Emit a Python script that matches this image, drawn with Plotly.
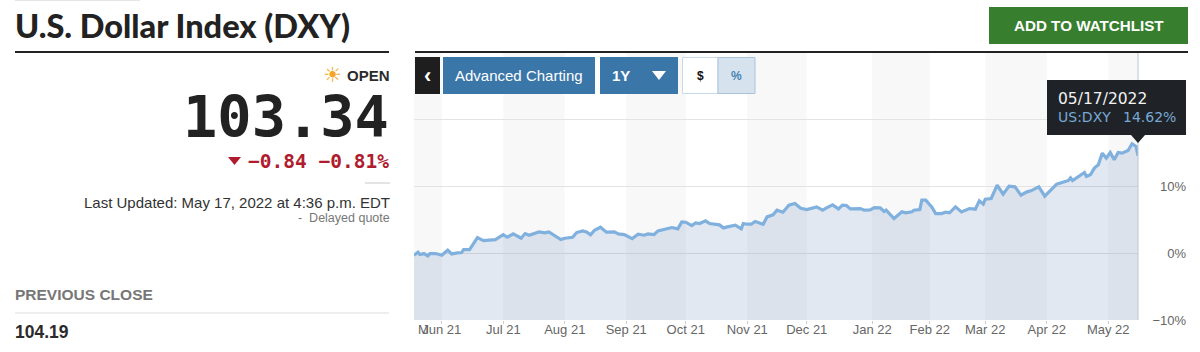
import pandas as pd
import plotly.graph_objects as go

START_DATE = "2021-05-17"
days_from_start = [0,2,3,5,7,8,11,14,17,19,22,24,25,28,30,32,35,38,41,45,47,50,54,56,58,63,66,68,70,74,76,80,82,85,87,89,91,94,97,101,103,106,110,113,116,118,121,123,128,130,133,135,137,140,142,144,147,149,154,156,158,162,165,166,168,170,172,176,178,181,183,186,189,192,195,198,203,206,208,211,214,216,218,220,225,227,230,232,235,237,238,242,246,248,251,252,255,256,258,261,263,266,268,270,273,276,280,283,285,287,288,291,294,297,300,303,306,309,311,315,318,324,330,331,332,338,339,341,343,345,347,349,351,353,355,357,360,362,364,365]
pct_change = [-0.30,0.15,-0.20,-0.05,-0.40,-0.05,-0.05,-0.30,0.45,-0.10,0.05,0.10,0.55,0.55,1.45,2.35,1.90,1.95,2.05,2.80,2.40,2.90,2.25,2.95,2.70,3.20,3.05,3.20,2.80,2.05,2.25,2.40,3.10,3.35,3.20,2.75,3.45,3.90,3.15,3.20,2.90,2.80,2.20,2.85,2.70,2.90,2.80,3.35,3.70,3.85,3.65,4.70,4.65,4.15,4.55,4.45,4.85,4.45,4.25,3.80,3.95,4.20,3.65,4.45,4.35,4.35,4.75,4.35,5.45,5.75,6.45,6.15,7.20,7.45,6.75,6.55,6.95,6.45,6.80,7.25,6.65,7.20,7.15,6.65,6.70,6.45,6.50,6.85,6.80,6.25,6.45,5.20,6.20,6.05,6.20,6.45,6.55,7.95,7.95,6.95,5.95,5.95,6.15,6.05,6.95,6.20,6.70,6.60,7.85,7.35,8.10,8.20,10.20,8.85,10.05,9.95,8.70,9.20,9.35,9.95,8.55,10.35,10.90,11.30,10.90,12.10,11.50,11.75,12.75,13.25,15.00,14.25,15.10,14.00,15.10,15.00,15.40,16.40,16.00,14.62]

tick_dates = ["2021-05-31","2021-07-01","2021-08-01","2021-09-01","2021-10-01","2021-11-01","2021-12-01","2022-01-03","2022-02-01","2022-03-01","2022-04-01","2022-05-02"]
tick_labels = ["Jun 21","Jul 21","Aug 21","Sep 21","Oct 21","Nov 21","Dec 21","Jan 22","Feb 22","Mar 22","Apr 22","May 22"]
y_ticks = [-10,0,10,20]
y_labels = ["−10%","0%","10%",""]
band_edges = [START_DATE] + tick_dates + ["2022-05-17"]

dates = pd.Timestamp(START_DATE) + pd.to_timedelta(days_from_start, unit="D")

W, H = 1200, 352
X0, X1, Y0, Y1 = 414, 1138, 53, 320
px = lambda x: x / W
py = lambda y: 1 - y / H

SANS = "Liberation Sans"
MONO = "DejaVu Sans Mono"

fig = go.Figure()
fig.add_trace(go.Scatter(x=dates, y=[-10]*len(dates), mode="lines", line=dict(width=0), hoverinfo="skip", showlegend=False))
fig.add_trace(go.Scatter(x=dates, y=pct_change, mode="lines", fill="tonexty",
                         fillcolor="rgba(68,114,168,0.16)",
                         line=dict(color="#80b1de", width=3.2, shape="linear"),
                         hoverinfo="skip", showlegend=False))

shapes = []
# alternating month bands
for i in range(0, len(band_edges)-1, 2):
    shapes.append(dict(type="rect", xref="x", yref="paper", x0=band_edges[i], x1=band_edges[i+1],
                       y0=py(Y1), y1=py(Y0), fillcolor="#f8f8f9", line_width=0, layer="below"))

def rect(x0, y0, x1, y1, fill, line=None, lw=0):
    shapes.append(dict(type="rect", xref="paper", yref="paper", x0=px(x0), x1=px(x1), y0=py(y1), y1=py(y0),
                       fillcolor=fill, line=dict(color=line or fill, width=lw)))

def hline(x0, x1, y, color, w=1):
    shapes.append(dict(type="line", xref="paper", yref="paper", x0=px(x0), x1=px(x1), y0=py(y), y1=py(y),
                       line=dict(color=color, width=w)))

def tri(points, fill):
    path = "M " + " L ".join(f"{px(x):.5f} {py(y):.5f}" for x, y in points) + " Z"
    shapes.append(dict(type="path", xref="paper", yref="paper", path=path, fillcolor=fill, line_width=0))

hline(15, 140, 0.5, "#e6e6e6")
hline(15, 389, 52, "#222222", 2)
hline(415, 1188, 52, "#222222", 2)
hline(365, 390, 183, "#c8c8c8")
hline(15, 389, 313, "#dddddd")
rect(989, 7, 1188, 44, "#377e2f")
rect(415, 57, 440, 94, "#1e1e1e")
rect(443, 57, 595, 94, "#3a76a8")
rect(600, 57, 678, 94, "#3a76a8")
rect(682.5, 57.5, 718, 93.5, "#ffffff", "#c9d9e8", 1)
rect(718, 57.5, 755, 93.5, "#d6e3ef", "#a9c3da", 1)
tri([(652, 71), (666, 71), (659, 80)], "#ffffff")
tri([(228, 157), (241, 157), (234.5, 165)], "#b01c2e")
# right edge of the plot
shapes.append(dict(type="line", xref="paper", yref="paper", x0=px(X1), x1=px(X1), y0=py(Y1), y1=py(Y0),
                   line=dict(color="#bcc6d2", width=1)))
# tooltip
rect(1047, 80, 1186, 135, "#1f2327")
tri([(1131, 135), (1145, 135), (1138, 143)], "#1f2327")

anns = []
def text(x, y, s, size, color, anchor="left", family=SANS, weight="normal"):
    anns.append(dict(xref="paper", yref="paper", x=px(x), y=py(y), text=s, showarrow=False,
                     xanchor=anchor, yanchor="middle", borderpad=0, borderwidth=0,
                     font=dict(family=family, size=size, color=color, weight=weight)))

text(15, 26, "U.S. Dollar Index (DXY)", 32.5, "#222222", family="Lato", weight=900)
text(1089, 26, "ADD TO WATCHLIST", 15.2, "#ffffff", "center", weight="bold")
text(332, 75, "☀", 21, "#f5a623", "center", family="DejaVu Sans")
text(390, 75, "OPEN", 15, "#2b2b2b", "right", weight="bold")
text(389, 117, "103.34", 57, "#222222", "right", family=MONO, weight="bold")
text(389, 161, "−0.84 −0.81%", 19.5, "#b01c2e", "right", family=MONO, weight="bold")
text(390, 202, "Last Updated: May 17, 2022 at 4:36 p.m. EDT", 15, "#333333", "right")
text(390, 218, "-  Delayed quote", 12.5, "#777777", "right")
text(15, 294, "PREVIOUS CLOSE", 15.5, "#777777", weight="bold")
text(15, 332, "104.19", 17.5, "#2b2b2b", weight="bold")
text(427, 75, "‹", 22, "#ffffff", "center", weight="bold")
text(519, 75.5, "Advanced Charting", 15, "#ffffff", "center")
text(612, 75.5, "1Y", 15, "#ffffff", weight="bold")
text(700, 75.5, "$", 12, "#111111", "center", weight="bold")
text(736.5, 75.5, "%", 12, "#4a84b5", "center", weight="bold")
text(1058, 99, "05/17/2022", 15.5, "#f2f2f2", family="DejaVu Sans")
text(1058, 117, "US:DXY", 14, "#78a9d6", family="DejaVu Sans")
text(1176, 117, "14.62%", 14, "#78a9d6", "right", family="DejaVu Sans")
text(418, 329, "M", 13, "#666666")

fig.update_layout(
    width=W, height=H, margin=dict(l=0, r=0, t=0, b=0, pad=0, autoexpand=False),
    paper_bgcolor="#ffffff", plot_bgcolor="rgba(0,0,0,0)",
    shapes=shapes, annotations=anns, showlegend=False,
    xaxis=dict(type="date", domain=[px(X0), px(X1)], range=[START_DATE, "2022-05-17"],
               tickmode="array", tickvals=tick_dates, ticktext=tick_labels,
               showgrid=False, zeroline=False, showline=False,
               ticks="outside", ticklen=3, tickcolor="#cccccc", ticklabelstandoff=-6,
               tickfont=dict(family=SANS, size=13, color="#666666"), anchor="y", automargin=False),
    yaxis=dict(domain=[py(Y1), py(Y0)], range=[-10, 30], anchor="free", position=px(1186), side="left",
               tickmode="array", tickvals=y_ticks, ticktext=y_labels,
               showgrid=True, gridcolor="#e3e3e3", gridwidth=1, zeroline=False, showline=False,
               ticks="", tickfont=dict(family=SANS, size=13, color="#666666"), automargin=False),
)

fig.write_html("out.html", config={"displayModeBar": False},
               post_script="document.body.style.margin='0';document.body.style.overflow='hidden';")
